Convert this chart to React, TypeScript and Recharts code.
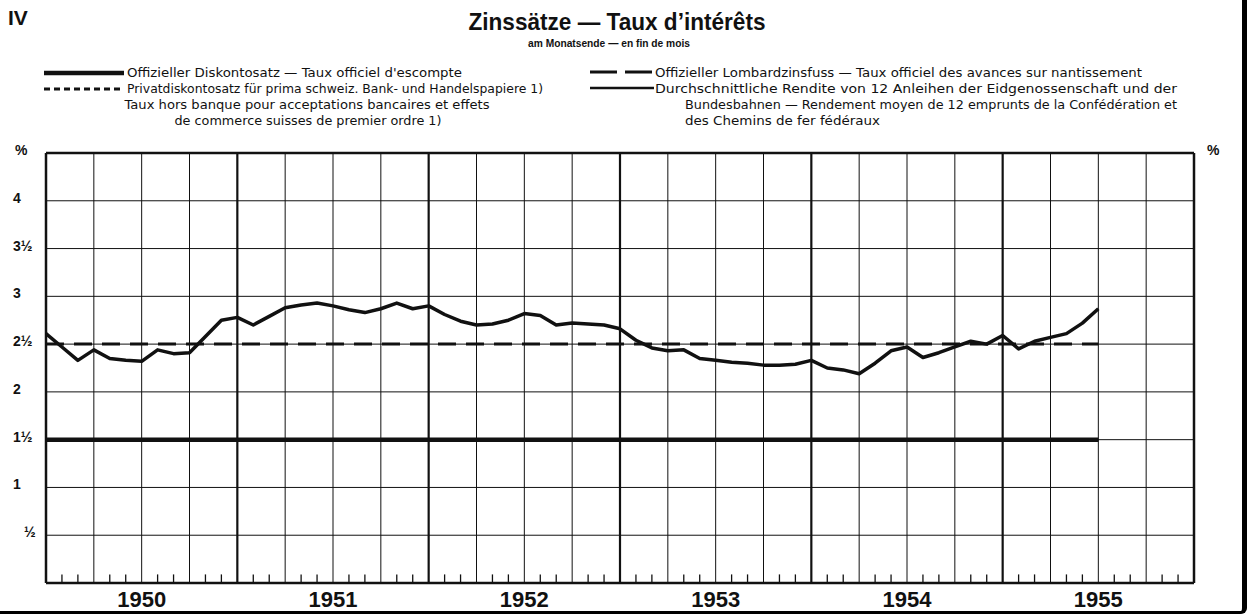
import React from 'react'
import { LineChart, Line, XAxis, YAxis, ReferenceLine } from 'recharts'

// month index 0 = end of Dec 1949, 12 = end of Dec 1950, ...
const yearLabels = ['1950', '1951', '1952', '1953', '1954', '1955']
const yearMidMonths = [6, 18, 30, 42, 54, 66]
const yearBoundaries = [12, 24, 36, 48, 60]
const quarterLines = [3, 6, 9, 15, 18, 21, 27, 30, 33, 39, 42, 45, 51, 54, 57, 63, 66, 69]
const monthTicks = [
  1, 2, 4, 5, 7, 8, 10, 11, 13, 14, 16, 17, 19, 20, 22, 23, 25, 26, 28, 29, 31, 32, 34, 35,
  37, 38, 40, 41, 43, 44, 46, 47, 49, 50, 52, 53, 55, 56, 58, 59, 61, 62, 64, 65, 67, 68, 70, 71,
]

const yTicks = [0.5, 1, 1.5, 2, 2.5, 3, 3.5, 4]
const yTickLabels = ['½', '1', '1½', '2', '2½', '3', '3½', '4']

// Durchschnittliche Rendite, month-end, Dec 1949 .. Jun 1955
const bondYield = [
  2.61, 2.47, 2.33, 2.44, 2.35, 2.33, 2.32, 2.44, 2.4, 2.41, 2.58, 2.75,
  2.78, 2.7, 2.79, 2.88, 2.91, 2.93, 2.9, 2.86, 2.83, 2.87, 2.93, 2.87,
  2.9, 2.81, 2.74, 2.7, 2.71, 2.75, 2.82, 2.8, 2.7, 2.72, 2.71, 2.7,
  2.66, 2.54, 2.46, 2.43, 2.44, 2.35, 2.33, 2.31, 2.3, 2.28, 2.28, 2.29,
  2.33, 2.25, 2.23, 2.19, 2.3, 2.43, 2.47, 2.36, 2.41, 2.47, 2.53, 2.5,
  2.59, 2.45, 2.53, 2.57, 2.61, 2.72, 2.87,
]

// flat official rates: [start month, end month] and value
const rateSpan = [0, 66]
const discountRate = [1.5, 1.5]
const privateDiscountRate = [1.5, 1.5]
const lombardRate = [2.5, 2.5]

const yieldData = bondYield.map((v, i) => ({ m: i, v }))
const toSeries = (vals: number[]) => vals.map((v, i) => ({ m: rateSpan[i], v }))

const LEFT_LEGEND = [
  { kind: 'discount', lines: ["Offizieller Diskontosatz — Taux officiel d'escompte"] },
  {
    kind: 'private',
    lines: [
      'Privatdiskontosatz für prima schweiz. Bank- und Handelspapiere   1)',
      'Taux hors banque pour acceptations bancaires et effets',
      'de commerce suisses de premier ordre  1)',
    ],
  },
]
const RIGHT_LEGEND = [
  { kind: 'lombard', lines: ['Offizieller Lombardzinsfuss — Taux officiel des avances sur nantissement'] },
  {
    kind: 'yield',
    lines: [
      'Durchschnittliche Rendite von 12 Anleihen der Eidgenossenschaft und der',
      'Bundesbahnen — Rendement moyen de 12 emprunts de la Confédération et',
      'des Chemins de fer fédéraux',
    ],
  },
]

const INK = '#111'
const MONTH_TICK = 0.09 // height of the little month ticks, in % units

function PercentTick(props: any) {
  const { x, y, payload, side } = props
  const label = yTickLabels[yTicks.indexOf(payload.value)]
  const tx = side === 'left' ? x - (label === '½' ? 22 : 33) : x + 11
  return (
    <text x={tx} y={y + 2} fontSize={14} fontWeight="bold" fill={INK}>
      {label}
    </text>
  )
}

function Header() {
  const [disc, priv] = LEFT_LEGEND
  const [lomb, yld] = RIGHT_LEGEND
  return (
    <svg width={1251} height={160} style={{ position: 'absolute', left: 0, top: 0 }}>
      <text x={8} y={25} fontSize={21} fontWeight="bold" fill={INK}>IV</text>
      <text x={617} y={30} fontSize={24} fontWeight="bold" textAnchor="middle" textLength={297} lengthAdjust="spacingAndGlyphs" fill={INK}>
        Zinssätze — Taux d’intérêts
      </text>
      <text x={609} y={47} fontSize={11} fontWeight="bold" textAnchor="middle" textLength={162} lengthAdjust="spacingAndGlyphs" fill={INK}>
        am Monatsende — en fin de mois
      </text>

      <g fontSize={12.5} fill={INK} style={{ fontFamily: '"DejaVu Sans", sans-serif' }}>
        <line x1={44} x2={124} y1={73} y2={73} stroke={INK} strokeWidth={4.5} />
        <text x={127} y={77} textLength={335} lengthAdjust="spacingAndGlyphs">{disc.lines[0]}</text>

        <line x1={44} x2={124} y1={89} y2={89} stroke={INK} strokeWidth={3} strokeDasharray="6 4" />
        <text x={127} y={93} textLength={416} lengthAdjust="spacingAndGlyphs">{priv.lines[0]}</text>
        <text x={307} y={109} textAnchor="middle" textLength={365} lengthAdjust="spacingAndGlyphs">{priv.lines[1]}</text>
        <text x={308} y={125} textAnchor="middle" textLength={267} lengthAdjust="spacingAndGlyphs">{priv.lines[2]}</text>

        <line x1={590} x2={653} y1={72} y2={72} stroke={INK} strokeWidth={3} strokeDasharray="27 8" />
        <text x={655} y={77} textLength={487} lengthAdjust="spacingAndGlyphs">{lomb.lines[0]}</text>

        <line x1={590} x2={654} y1={88} y2={88} stroke={INK} strokeWidth={2.5} />
        <text x={655} y={93} textLength={522} lengthAdjust="spacingAndGlyphs">{yld.lines[0]}</text>
        <text x={685} y={109} textLength={492} lengthAdjust="spacingAndGlyphs">{yld.lines[1]}</text>
        <text x={685} y={125} textLength={195} lengthAdjust="spacingAndGlyphs">{yld.lines[2]}</text>
      </g>

      <text x={15} y={155} fontSize={14} fontWeight="bold" fill={INK}>%</text>
      <text x={1207} y={155} fontSize={14} fontWeight="bold" fill={INK}>%</text>
    </svg>
  )
}

export default function App() {
  return (
    <div
      style={{
        position: 'absolute',
        left: 0,
        top: 0,
        width: 1251,
        height: 615,
        background: '#fff',
        fontFamily: '"Liberation Sans", Arial, sans-serif',
      }}
    >
      <div
        style={{
          position: 'absolute',
          left: 0,
          top: 0,
          width: 1247,
          height: 614,
          borderRight: '5px solid #000',
          borderBottom: '3px solid #000',
          borderBottomRightRadius: 6,
          boxSizing: 'border-box',
        }}
      />
      <Header />
      <div style={{ position: 'absolute', left: 0, top: 0 }}>
        <LineChart width={1251} height={615} data={yieldData} margin={{ top: 153, right: 0, bottom: 0, left: 0 }}>
          <XAxis xAxisId="m" type="number" dataKey="m" domain={[0, 72]} hide height={0} />
          <XAxis
            xAxisId="yr"
            type="number"
            dataKey="m"
            domain={[0, 72]}
            ticks={yearMidMonths}
            height={32}
            tickSize={0}
            tickMargin={8}
            axisLine={false}
            tickLine={false}
            interval={0}
            tickFormatter={(v: number) => yearLabels[yearMidMonths.indexOf(v)]}
            tick={{ fill: INK, fontSize: 22, fontWeight: 'bold' }}
          />
          <YAxis
            yAxisId="l"
            width={46}
            domain={[0, 4.5]}
            ticks={yTicks}
            interval={0}
            axisLine={false}
            tickLine={false}
            tickSize={0}
            tickMargin={0}
            tick={(p: any) => <PercentTick {...p} side="left" />}
          />
          <YAxis
            yAxisId="r"
            orientation="right"
            width={57}
            domain={[0, 4.5]}
            ticks={yTicks}
            interval={0}
            axisLine={false}
            tickLine={false}
            tickSize={0}
            tickMargin={0}
            tick={(p: any) => <PercentTick {...p} side="right" />}
          />

          {yTicks.map((t) => (
            <ReferenceLine key={'h' + t} xAxisId="m" yAxisId="l" y={t} stroke={INK} strokeWidth={1} />
          ))}
          {quarterLines.map((q) => (
            <ReferenceLine key={'q' + q} xAxisId="m" yAxisId="l" x={q} stroke={INK} strokeWidth={1} />
          ))}
          {yearBoundaries.map((q) => (
            <ReferenceLine key={'y' + q} xAxisId="m" yAxisId="l" x={q} stroke={INK} strokeWidth={2.2} />
          ))}
          {monthTicks.map((m) => (
            <ReferenceLine
              key={'t' + m}
              xAxisId="m"
              yAxisId="l"
              segment={[{ x: m, y: 0 }, { x: m, y: MONTH_TICK }]}
              stroke={INK}
              strokeWidth={1.3}
            />
          ))}
          <ReferenceLine xAxisId="m" yAxisId="l" y={0} stroke={INK} strokeWidth={2.5} />
          <ReferenceLine xAxisId="m" yAxisId="l" y={4.5} stroke={INK} strokeWidth={2.5} />
          <ReferenceLine xAxisId="m" yAxisId="l" x={0} stroke={INK} strokeWidth={2.5} />
          <ReferenceLine xAxisId="m" yAxisId="l" x={72} stroke={INK} strokeWidth={2.5} />

          <Line
            xAxisId="m"
            yAxisId="l"
            data={toSeries(privateDiscountRate)}
            dataKey="v"
            stroke={INK}
            strokeWidth={2.5}
            strokeDasharray="6 4"
            dot={false}
            activeDot={false}
            isAnimationActive={false}
          />
          <Line
            xAxisId="m"
            yAxisId="l"
            data={toSeries(discountRate)}
            dataKey="v"
            stroke={INK}
            strokeWidth={4.5}
            dot={false}
            activeDot={false}
            isAnimationActive={false}
          />
          <Line
            xAxisId="m"
            yAxisId="l"
            data={toSeries(lombardRate)}
            dataKey="v"
            stroke={INK}
            strokeWidth={3}
            strokeDasharray="18 10"
            dot={false}
            activeDot={false}
            isAnimationActive={false}
          />
          <Line
            xAxisId="m"
            yAxisId="l"
            dataKey="v"
            stroke={INK}
            strokeWidth={3.5}
            strokeLinejoin="round"
            dot={false}
            activeDot={false}
            isAnimationActive={false}
          />
        </LineChart>
      </div>
    </div>
  )
}
